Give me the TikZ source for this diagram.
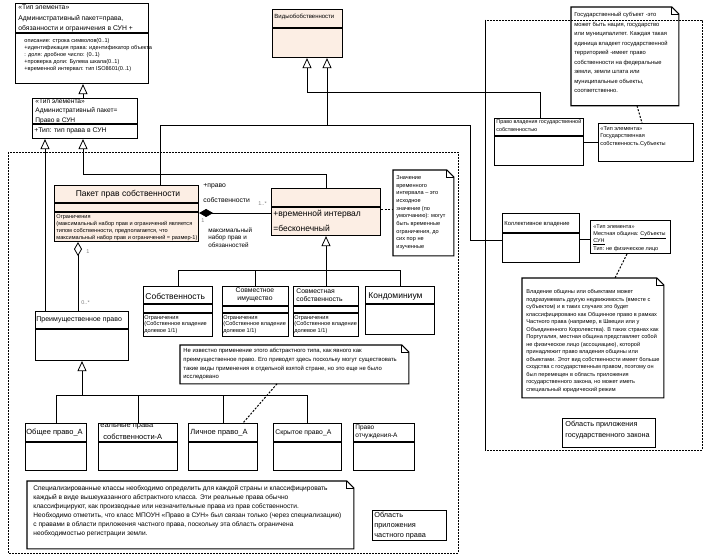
\documentclass[tikz,border=0pt]{standalone}
\usepackage{fontspec}
\setmainfont{Liberation Sans}
\usetikzlibrary{arrows.meta}
\definecolor{clsfill}{RGB}{252,238,228}
\newcommand{\fsz}[2]{\fontsize{#1}{#2}\selectfont}

\begin{document}
\begin{tikzpicture}[x=1pt, y=-1pt, line width=0.8pt,
  cls/.style={draw, line width=1.1pt, anchor=north west, inner sep=0pt},
  txt/.style={anchor=north west, inner sep=0pt, align=left},
  lbl/.style={anchor=west, inner sep=0pt},
  note/.style={anchor=north west, inner sep=0pt},
  gen/.style={-{Triangle[open, width=9pt, length=10pt]}},
  dep/.style={dash pattern=on 2pt off 1.5pt, line width=1pt},
  pkg/.style={dash pattern=on 2pt off 1pt},
  mult/.style={anchor=west, inner sep=0pt, text=gray, font=\fsz{5.5}{6}}]
\useasboundingbox (0,0) rectangle (710,559);
%%%%%%%%%%%%% packages
\draw[pkg] (8,152) rectangle (458,553);
\draw[pkg] (485,20) rectangle (702,450);
\draw (485,20) -- (485,450);
%%%%%%%%%%%%% top left
\node[cls, minimum width=133pt, minimum height=80pt] (adm) at (15,3) {};
\node[txt, font=\fsz{6.8}{10.5}] (adm-t) at (18,4.5) {«Тип элемента»\\Административный пакет=права,\\обязанности и ограничения в СУН +};
\node[txt, font=\fsz{5.6}{7}] (adm-a) at (24,38) {описание: строка символов(0..1)\\+идентификация права: идентификатор объекта\\: доля: дробное число: (0..1)\\+проверка доли: Булева шкала(0..1)\\+временной интервал: тип ISO8601(0..1)};
\node[cls, minimum width=105pt, minimum height=40pt] (pr) at (32,98) {};
\node[txt, font=\fsz{6.6}{9.8}] (pr-t) at (35,98.2) {«Тип элемента»\\Административный пакет=\\Право в СУН};
\node[lbl, font=\fsz{6.8}{8}] (pr-a) at (34,131) {+Тип: тип права в СУН};
\node[cls, fill=clsfill, minimum width=70pt, minimum height=48pt] (vid) at (272,9) {};
\node[lbl, font=\fsz{6}{7}] (vid-t) at (274,17) {Видыобобственности};
%%%%%%%%%%%%% left package
\node[cls, fill=clsfill, minimum width=144pt, minimum height=56pt] (pkt) at (54,185) {};
\node[font=\fsz{8.5}{10}, inner sep=0pt] (pkt-t) at (128,194) {Пакет прав собственности};
\node[txt, font=\fsz{5.6}{7}] (pkt-c) at (56,214) {Ограничения\\(максимальный набор прав и ограничений является\\типом собственности, предполагается, что\\максимальный набор прав и ограничений = размер-1)};
\node[cls, fill=clsfill, minimum width=109pt, minimum height=47pt] (tmp) at (271,188) {};
\node[lbl, font=\fsz{8.5}{10}] (tmp-a1) at (273,214) {+временной интервал};
\node[lbl, font=\fsz{8.5}{10}] (tmp-a2) at (273,228) {=бесконечный};
\node[note, minimum width=60pt, minimum height=85pt] (n1) at (393,170) {};
\node[txt, font=\fsz{5.6}{7.7}] (n1-t) at (396,175) {Значение\\временного\\интервала – это\\исходное\\значение (по\\умолчанию): могут\\быть временные\\ограничения, до\\сих пор не\\изученные};
\node[lbl, font=\fsz{6.8}{8}] (l-pravo) at (203,186) {+право};
\node[lbl, font=\fsz{6.8}{8}] (l-sob) at (203,200) {собственности};
\node[mult] (m1) at (258,204) {1..*};
\node[mult] (m2) at (201,221) {1};
\node[txt, font=\fsz{6.3}{7.5}] (l-max) at (208,227) {максимальный\\набор прав и\\обязанностей};
\node[cls, minimum width=93pt, minimum height=49pt] (pim) at (35,311) {};
\node[lbl, font=\fsz{7}{8}] (pim-t) at (36,320) {Преимущественное право};
\node[mult] (m3) at (86,252) {1};
\node[mult] (m4) at (81,303) {0..*};
%%%%%%%%%%%%% kinds of ownership
\node[cls, minimum width=69pt, minimum height=50pt] (sob) at (143,286) {};
\node[lbl, font=\fsz{8.5}{10}] (sob-t) at (145,296) {Собственность};
\node[txt, font=\fsz{5.6}{6.5}] (sob-c) at (144,315) {Ограничения\\(Собственное владение\\долевое 1/1)};
\node[cls, minimum width=66pt, minimum height=50pt] (sovim) at (222,286) {};
\node[align=center, inner sep=0pt, font=\fsz{6.8}{8}] (sovim-t) at (255,295) {Совместное\\имущество};
\node[txt, font=\fsz{5.6}{6.5}] (sovim-c) at (223,315) {Ограничения\\(Собственное владение\\долевое 1/1)};
\node[cls, minimum width=65pt, minimum height=50pt] (sovsob) at (293,286) {};
\node[txt, font=\fsz{6.8}{8}] (sovsob-t) at (296,288) {Совместная\\собственность};
\node[txt, font=\fsz{5.6}{6.5}] (sovsob-c) at (294,315) {Ограничения\\(Собственное владение\\долевое 1/1)};
\node[cls, minimum width=69pt, minimum height=48pt] (kondo) at (365,286) {};
\node[lbl, font=\fsz{8.5}{10}] (kondo-t) at (368,296) {Кондоминиум};
\node[note, minimum width=228pt, minimum height=38pt] (n2) at (180,345) {};
\node[txt, font=\fsz{5.9}{8.7}] (n2-t) at (183,348) {Не известно применение этого абстрактного типа, как явного как\\преимущественное право. Его приводят здесь поскольку могут существовать\\такие виды применения в отдельной взятой стране, но это еще не было\\исследовано};
%%%%%%%%%%%%% preferential rights
\node[cls, minimum width=61pt, minimum height=47pt] (obsh) at (25,423) {};
\node[lbl, font=\fsz{7.5}{9}] (obsh-t) at (26,433) {Общее право\_А};
\node[cls, minimum width=79pt, minimum height=47pt] (real) at (98,423) {};
\begin{scope}
  \clip (98,423) rectangle (177,470);
  \node[lbl, font=\fsz{7.5}{9}] (real-t1) at (100,426.5) {еальные права};
\end{scope}
\node[lbl, font=\fsz{7.5}{9}] (real-t2) at (103,437) {собственности-А};
\node[cls, minimum width=69pt, minimum height=47pt] (lich) at (188,423) {};
\node[lbl, font=\fsz{7.5}{9}] (lich-t) at (190,433) {Личное право\_А};
\node[cls, minimum width=68pt, minimum height=47pt] (skr) at (273,423) {};
\node[lbl, font=\fsz{6.8}{8}] (skr-t) at (275,433) {Скрытое право\_А};
\node[cls, minimum width=61pt, minimum height=47pt] (otch) at (353,423) {};
\node[txt, font=\fsz{6.5}{8}] (otch-t) at (355,425) {Право\\отчуждения-А};
\node[note, minimum width=326pt, minimum height=67pt] (n3) at (27,481) {};
\node[txt, font=\fsz{6.6}{9}] (n3-t) at (33,485) {Специализированные классы необходимо определить для каждой страны и классифицировать\\каждый в виде вышеуказанного абстрактного класса. Эти реальные права обычно\\классифицируют, как производные или незначительные права из прав собственности.\\Необходимо отметить, что класс МПОУН «Право в СУН» был связан только (через специализацию)\\с правами в области приложения частного права, поскольку эта область ограничена\\необходимостью регистрации земли.};
\node[cls, minimum width=74pt, minimum height=30pt] (area1) at (372,510) {};
\node[txt, font=\fsz{7.3}{10}] (area1-t) at (374,511.5) {Область\\приложения\\частного права};
%%%%%%%%%%%%% right package
\node[note, minimum width=107pt, minimum height=98pt] (n4) at (571,7) {};
\node[txt, font=\fsz{5.8}{9.5}] (n4-t) at (574,12) {Государственный субъект -это\\может быть нация, государство\\или муниципалитет. Каждая такая\\единица владеет государственной\\территорией -имеет право\\собственности на федеральные\\земли, земли штата или\\муниципальные объекты,\\соответственно.};
\node[cls, minimum width=89pt, minimum height=47pt] (gov) at (494,118) {};
\node[txt, font=\fsz{5.4}{8}] (gov-t) at (496,119.5) {Право владения государственной\\собственностью};
\node[cls, minimum width=95pt, minimum height=38pt] (govs) at (598,123) {};
\node[txt, font=\fsz{5.6}{7.5}] (govs-t) at (600,126) {«Тип элемента»\\Государственная\\собственность.Субъекты};
\node[cls, minimum width=77pt, minimum height=49pt] (koll) at (502,213) {};
\node[lbl, font=\fsz{5.8}{7}] (koll-t) at (504,224) {Коллективное владение};
\node[cls, minimum width=80pt, minimum height=33pt] (loc) at (590,220) {};
\node[txt, font=\fsz{5.5}{7.3}] (loc-t) at (593,224) {«Тип элемента»\\Местная община: \underline{Субъекты}\\\underline{СУН}\\Тип: не физическое лицо};
\node[note, minimum width=141pt, minimum height=119pt] (n5) at (522,278) {};
\node[txt, font=\fsz{5.6}{7.5}] (n5-t) at (526,289) {Владение общины или объектами может\\подразумевать другую недвижимость (вместе с\\субъектом) и в таких случаях это будет\\классифицировано как Общинное право в рамках\\Частного права (например, в Швеции или у\\Объединенного Королевства). В таких странах как\\Португалия, местная община представляет собой\\не физическое лицо (ассоциацию), которой\\принадлежит право владения общины или\\объектами. Этот вид собственности имеет больше\\сходства с государственным правом, поэтому он\\был перемещен в область приложения\\государственного закона, но может иметь\\специальный юридический режим};
\node[cls, minimum width=93pt, minimum height=29pt] (area2) at (562,418) {};
\node[txt, font=\fsz{7.3}{11}] (area2-t) at (565,420.5) {Область приложения\\государственного закона};
%%%%%%%%%%%%% compartments and note corners
\foreach \b/\y in {adm/33, pr/124, vid/28, pkt/203, pkt/212, tmp/207, pim/329,
    sob/304, sob/313, sovim/306, sovim/313, sovsob/306, sovsob/313, kondo/304,
    obsh/442, real/442, lich/442, skr/442, otch/442, gov/136, koll/233}
  \draw[line width=1.1pt] (\b.west |- 0,\y) -- (\b.east |- 0,\y);
\foreach \n in {n1, n2, n3, n4, n5} {
  \draw[line width=1.1pt] (\n.north west) -- ([xshift=-7pt]\n.north east) -- ([yshift=-7pt]\n.north east) -- (\n.south east) -- (\n.south west) -- cycle;
  \draw ([xshift=-7pt]\n.north east) |- ([yshift=-7pt]\n.north east);
}
%%%%%%%%%%%%% connectors
\draw[gen] (pr.north -| 83,0) -- (adm.south -| 83,0);
\draw[gen] (pim.north -| 45,0) -- (pr.south -| 45,0);
\draw[gen] (tmp.north -| 326,0) -- (326,174) -- (83,174) -- (pr.south -| 83,0);
\draw[gen] (gov.north -| 540,0) -- (540,92) -- (307,92) -- (vid.south -| 307,0);
\draw[gen] (koll.west |- 0,240) -- (470,240) -- (470,125) -- (327,125) -- (vid.south -| 327,0);
\draw (pkt.north -| 160,0) -- (160,125) -- (327,125);
\draw[{Diamond[width=8pt, length=14pt]}-] (pkt.east |- 0,213) -- (tmp.west |- 0,213);
\draw[{Diamond[open, width=8pt, length=14pt]}-] (pkt.south -| 78,0) -- (pim.north -| 78,0);
\draw[dep] (tmp.east |- 0,210) -- (n1.west |- 0,210);
\draw[gen] (326,270) -- (tmp.south -| 326,0);
\draw (sob.north |- 0,270) -- (kondo.north |- 0,270);
\foreach \b in {sob, sovim, sovsob, kondo}
  \draw (\b.north) -- (\b.north |- 0,270);
\draw[gen] (82,395) -- (pim.south -| 82,0);
\draw (obsh.north |- 0,395) -- (skr.north |- 0,395);
\foreach \b in {obsh, real, lich, skr}
  \draw (\b.north) -- (\b.north |- 0,395);
\draw[dep] (n2.south -| 277,0) -- (lich.north -| 243,0);
\draw[dep] (n4.south -| 637,0) -- (govs.north -| 642,0);
\draw (gov.east |- 0,142) -- (govs.west |- 0,142);
\draw (koll.east |- 0,239) -- (loc.west |- 0,239);
\draw[dep] (loc.south -| 627,0) -- (n5.north -| 615,0);
\end{tikzpicture}
\end{document}
